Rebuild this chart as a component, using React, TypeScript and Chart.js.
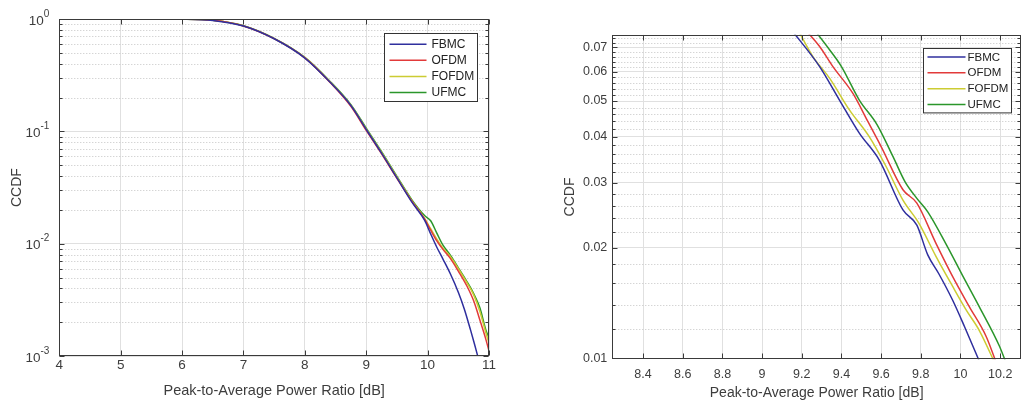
import React, { useEffect, useRef } from 'react';
import { Chart, registerables } from 'chart.js';

Chart.register(...registerables);

// ---------- shared ----------
const seriesNames = ['FBMC', 'OFDM', 'FOFDM', 'UFMC'];
const seriesColors = ['#2f2f9e', '#e23a3a', '#cccc33', '#2b962b'];
const xTitle = 'Peak-to-Average Power Ratio [dB]';
const yTitle = 'CCDF';

// ---------- left panel (full range) ----------
const leftXTicks = [4, 5, 6, 7, 8, 9, 10, 11];
const leftYTicks = [0.001, 0.01, 0.1, 1];
const leftYTickBase = ['10', '10', '10', '10'];
const leftYTickExp = ['-3', '-2', '-1', '0'];

const fbmcX = [5.67, 6.0, 6.5, 7.0, 7.5, 8.0, 8.4, 8.75, 9.0, 9.25, 9.5, 9.75, 9.95, 10.05, 10.15, 10.25, 10.37, 10.5, 10.6, 10.7, 10.76, 10.82];
const fbmcY = [0.999, 0.997, 0.974, 0.868, 0.668, 0.450, 0.278, 0.170, 0.104, 0.064, 0.0385, 0.0232, 0.0162, 0.0122, 0.0093, 0.0073, 0.0054, 0.0037, 0.0026, 0.0017, 0.0013, 0.00098];

const ofdmX = [5.67, 6.0, 6.5, 7.0, 7.5, 8.0, 8.4, 8.75, 9.0, 9.25, 9.5, 9.75, 9.95, 10.05, 10.15, 10.25, 10.37, 10.5, 10.64, 10.75, 10.85, 10.95, 11.0];
const ofdmY = [0.999, 0.997, 0.975, 0.869, 0.669, 0.451, 0.277, 0.167, 0.102, 0.063, 0.0382, 0.0235, 0.0166, 0.0132, 0.0106, 0.0089, 0.0074, 0.0057, 0.0042, 0.0031, 0.0021, 0.0014, 0.00111];

const fofdmX = [5.67, 6.0, 6.5, 7.0, 7.5, 8.0, 8.4, 8.75, 9.0, 9.25, 9.5, 9.75, 9.95, 10.05, 10.15, 10.25, 10.37, 10.5, 10.64, 10.75, 10.85, 10.95, 11.0];
const fofdmY = [0.999, 0.997, 0.975, 0.870, 0.671, 0.454, 0.280, 0.171, 0.105, 0.065, 0.0392, 0.0238, 0.0168, 0.0136, 0.0110, 0.0091, 0.0077, 0.0060, 0.0045, 0.0035, 0.0025, 0.0016, 0.00130];

const ufmcX = [5.67, 6.0, 6.5, 7.0, 7.5, 8.0, 8.4, 8.75, 9.0, 9.25, 9.5, 9.75, 9.95, 10.05, 10.15, 10.25, 10.37, 10.5, 10.64, 10.75, 10.85, 10.95, 11.0];
const ufmcY = [0.999, 0.998, 0.976, 0.872, 0.673, 0.456, 0.283, 0.173, 0.107, 0.066, 0.0398, 0.0243, 0.0178, 0.0160, 0.0124, 0.0097, 0.0079, 0.0061, 0.0046, 0.0036, 0.0027, 0.0017, 0.00145];

// ---------- right panel (zoom) ----------
const rightXTicks = [8.4, 8.6, 8.8, 9, 9.2, 9.4, 9.6, 9.8, 10, 10.2];
const rightXTickLabels = ['8.4', '8.6', '8.8', '9', '9.2', '9.4', '9.6', '9.8', '10', '10.2'];
const rightYTicks = [0.01, 0.02, 0.03, 0.04, 0.05, 0.06, 0.07];
const rightYTickLabels = ['0.01', '0.02', '0.03', '0.04', '0.05', '0.06', '0.07'];

const fbmcZoomX = [9.14, 9.29, 9.39, 9.49, 9.59, 9.71, 9.78, 9.835, 9.89, 9.96, 10.02, 10.11];
const fbmcZoomY = [0.0790, 0.0620, 0.0503, 0.0409, 0.0346, 0.0253, 0.0230, 0.0191, 0.0170, 0.0144, 0.0122, 0.0094];

const ofdmZoomX = [9.20, 9.29, 9.357, 9.457, 9.533, 9.60, 9.71, 9.78, 9.877, 9.96, 10.045, 10.13, 10.19];
const ofdmZoomY = [0.0800, 0.0703, 0.0620, 0.0525, 0.0440, 0.0376, 0.0287, 0.0264, 0.0205, 0.0167, 0.0138, 0.01145, 0.0094];

const fofdmZoomX = [9.17, 9.256, 9.34, 9.44, 9.54, 9.625, 9.71, 9.79, 9.877, 9.96, 10.03, 10.095, 10.185];
const fofdmZoomY = [0.0800, 0.0660, 0.0577, 0.0473, 0.0400, 0.0332, 0.0269, 0.0233, 0.0189, 0.0157, 0.0135, 0.0119, 0.0094];

const ufmcZoomX = [9.24, 9.34, 9.40, 9.49, 9.58, 9.66, 9.72, 9.78, 9.835, 9.93, 10.01, 10.095, 10.196, 10.24];
const ufmcZoomY = [0.0810, 0.0689, 0.0620, 0.0503, 0.0431, 0.0353, 0.0302, 0.0272, 0.0250, 0.0203, 0.0168, 0.0138, 0.0108, 0.0094];

const FONT = '"Liberation Sans", Arial, Helvetica, sans-serif';
const TEXT = '#3d3d3d';
const AXIS = '#3a3a3a';
const MAJOR_GRID = '#e0e0e0';
const MINOR_GRID = '#c4c4c4';

// minor grid positions
const leftYMinor: number[] = [];
for (const d of [0.001, 0.01, 0.1]) for (let k = 2; k <= 9; k++) leftYMinor.push(k * d);
const rightYMinor: number[] = [];
for (let k = 12; k <= 76; k += 2) if (k % 10 !== 0) rightYMinor.push(k / 1000);

const matlabPlugin = {
  id: 'matlab',
  beforeDatasetsDraw(chart: any, _args: any, opts: any) {
    const { ctx, chartArea: a, scales } = chart;
    const y = scales.y;
    ctx.save();
    ctx.beginPath();
    ctx.rect(a.left, a.top, a.right - a.left, a.bottom - a.top);
    ctx.clip();
    ctx.strokeStyle = MINOR_GRID;
    ctx.lineWidth = 1;
    ctx.setLineDash([1, 2]);
    for (const v of opts.minorY) {
      if (v <= y.min || v >= y.max) continue;
      const py = Math.round(y.getPixelForValue(v)) + 0.5;
      ctx.beginPath();
      ctx.moveTo(a.left, py);
      ctx.lineTo(a.right, py);
      ctx.stroke();
    }
    ctx.restore();
  },
  afterDatasetsDraw(chart: any, _args: any, opts: any) {
    const { ctx, chartArea: a, scales } = chart;
    const L = Math.round(a.left) + 0.5;
    const R = Math.round(a.right) - 0.5;
    const T = Math.round(a.top) + 0.5;
    const B = Math.round(a.bottom) - 0.5;
    ctx.save();
    ctx.strokeStyle = AXIS;
    ctx.lineWidth = 1;
    ctx.setLineDash([]);
    ctx.strokeRect(L, T, R - L, B - T);
    ctx.beginPath();
    for (const v of opts.xTicks) {
      const px = Math.round(scales.x.getPixelForValue(v)) + 0.5;
      ctx.moveTo(px, B); ctx.lineTo(px, B - 5);
      ctx.moveTo(px, T); ctx.lineTo(px, T + 5);
    }
    for (const v of opts.yTicks) {
      const py = Math.round(scales.y.getPixelForValue(v)) + 0.5;
      ctx.moveTo(L, py); ctx.lineTo(L + 5, py);
      ctx.moveTo(R, py); ctx.lineTo(R - 5, py);
    }
    for (const v of opts.minorY) {
      if (v <= scales.y.min || v >= scales.y.max) continue;
      const py = Math.round(scales.y.getPixelForValue(v)) + 0.5;
      ctx.moveTo(L, py); ctx.lineTo(L + 3, py);
      ctx.moveTo(R, py); ctx.lineTo(R - 3, py);
    }
    ctx.stroke();

    // power-of-ten tick labels (base + raised exponent)
    if (opts.expLabels) {
      const e = opts.expLabels;
      ctx.fillStyle = TEXT;
      ctx.textBaseline = 'middle';
      opts.yTicks.forEach((v: number, i: number) => {
        const py = scales.y.getPixelForValue(v);
        ctx.font = `${e.expSize}px ${FONT}`;
        const ew = ctx.measureText(e.exp[i]).width;
        const xr = a.left - e.gap;
        ctx.textAlign = 'left';
        ctx.fillText(e.exp[i], xr - ew, py - e.raise);
        ctx.font = `${e.baseSize}px ${FONT}`;
        ctx.textAlign = 'right';
        ctx.fillText(e.base[i], xr - ew, py + e.drop);
      });
    }

    // legend box
    const lg = opts.legend;
    const bx = Math.round(a.right - lg.right - lg.width) + 0.5;
    const by = Math.round(a.top + lg.top) + 0.5;
    ctx.fillStyle = '#ffffff';
    ctx.fillRect(bx, by, lg.width, lg.height);
    ctx.strokeStyle = '#333333';
    ctx.lineWidth = 1;
    ctx.strokeRect(bx, by, lg.width, lg.height);
    ctx.font = `${lg.fontSize}px ${FONT}`;
    ctx.textBaseline = 'middle';
    ctx.textAlign = 'left';
    chart.data.datasets.forEach((ds: any, i: number) => {
      const ry = by + lg.rowStart + i * lg.rowStep;
      ctx.strokeStyle = ds.borderColor;
      ctx.lineWidth = 1.5;
      ctx.beginPath();
      ctx.moveTo(bx + lg.line0, ry);
      ctx.lineTo(bx + lg.line1, ry);
      ctx.stroke();
      ctx.fillStyle = '#222222';
      ctx.fillText(ds.label, bx + lg.text, ry + 0.5);
    });
    ctx.restore();
  },
};

function makeDatasets(xs: number[][], ys: number[][]) {
  return xs.map((xArr, i) => ({
    label: seriesNames[i],
    data: xArr.map((x, j) => ({ x, y: ys[i][j] })),
    borderColor: seriesColors[i],
    backgroundColor: seriesColors[i],
    borderWidth: 1.5,
    pointRadius: 0,
    fill: false,
    cubicInterpolationMode: 'monotone' as const,
  }));
}

export default function App() {
  const leftRef = useRef<HTMLCanvasElement>(null);
  const rightRef = useRef<HTMLCanvasElement>(null);

  useEffect(() => {
    const left = new Chart(leftRef.current as HTMLCanvasElement, {
      type: 'line',
      data: {
        datasets: makeDatasets([fbmcX, ofdmX, fofdmX, ufmcX], [fbmcY, ofdmY, fofdmY, ufmcY]) as any,
      },
      plugins: [matlabPlugin as any],
      options: {
        responsive: false,
        animation: false,
        layout: { padding: { left: 0, top: 16, right: 31, bottom: 0 } },
        plugins: {
          legend: { display: false },
          tooltip: { enabled: false },
          matlab: {
            minorY: leftYMinor,
            xTicks: leftXTicks,
            yTicks: leftYTicks,
            expLabels: { base: leftYTickBase, exp: leftYTickExp, baseSize: 13.5, expSize: 10, gap: 10, raise: 5, drop: 2 },
            legend: { right: 12.3, top: 14, width: 93, height: 68, rowStart: 10.7, rowStep: 16.1, line0: 5, line1: 42, text: 47, fontSize: 12 },
          },
        } as any,
        scales: {
          x: {
            type: 'linear',
            min: 4,
            max: 11,
            afterBuildTicks: (s: any) => { s.ticks = leftXTicks.map((v) => ({ value: v })); },
            afterFit: (s: any) => { s.height = 47; },
            grid: { color: MAJOR_GRID, drawTicks: false },
            border: { display: false },
            ticks: { padding: 1, color: TEXT, font: { family: FONT, size: 13.5 }, maxRotation: 0, callback: (v: any) => String(v) },
            title: { display: true, text: xTitle, color: TEXT, font: { family: FONT, size: 14.5 }, padding: { top: 0, bottom: 3.6 } },
          },
          y: {
            type: 'logarithmic',
            min: 0.001,
            max: 1,
            afterBuildTicks: (s: any) => { s.ticks = leftYTicks.map((v) => ({ value: v })); },
            afterFit: (s: any) => { s.width = 59.3; },
            grid: { color: MAJOR_GRID, drawTicks: false },
            border: { display: false },
            ticks: { padding: 11, color: TEXT, font: { family: FONT, size: 13.5 }, callback: () => '' },
            title: { display: true, text: yTitle, color: TEXT, font: { family: FONT, size: 14 }, padding: { top: 9, bottom: 0 } },
          },
        },
      },
    });

    const right = new Chart(rightRef.current as HTMLCanvasElement, {
      type: 'line',
      data: {
        datasets: makeDatasets([fbmcZoomX, ofdmZoomX, fofdmZoomX, ufmcZoomX], [fbmcZoomY, ofdmZoomY, fofdmZoomY, ufmcZoomY]) as any,
      },
      plugins: [matlabPlugin as any],
      options: {
        responsive: false,
        animation: false,
        layout: { padding: { left: 0, top: 34.7, right: 1, bottom: 0 } },
        plugins: {
          legend: { display: false },
          tooltip: { enabled: false },
          matlab: {
            minorY: rightYMinor,
            xTicks: rightXTicks,
            yTicks: rightYTicks,
            legend: { right: 10.3, top: 13.6, width: 88, height: 64.4, rowStart: 8.4, rowStep: 15.9, line0: 4, line1: 42, text: 44, fontSize: 11.5 },
          },
        } as any,
        scales: {
          x: {
            type: 'linear',
            min: 8.245,
            max: 10.305,
            afterBuildTicks: (s: any) => { s.ticks = rightXTicks.map((v) => ({ value: v })); },
            afterFit: (s: any) => { s.height = 43.7; },
            grid: { color: MAJOR_GRID, drawTicks: false },
            border: { display: false },
            ticks: { padding: 8, color: TEXT, font: { family: FONT, size: 12.5 }, maxRotation: 0, callback: (_v: any, i: number) => rightXTickLabels[i] },
            title: { display: true, text: xTitle, color: TEXT, font: { family: FONT, size: 14 }, padding: { top: 0, bottom: 1.6 } },
          },
          y: {
            type: 'logarithmic',
            min: 0.00994,
            max: 0.0757,
            afterBuildTicks: (s: any) => { s.ticks = rightYTicks.map((v) => ({ value: v })); },
            afterFit: (s: any) => { s.width = 92.3; },
            grid: { color: MAJOR_GRID, drawTicks: false },
            border: { display: false },
            ticks: { padding: 5, color: TEXT, font: { family: FONT, size: 12.5 }, callback: (_v: any, i: number) => rightYTickLabels[i] },
            title: { display: true, text: yTitle, color: TEXT, font: { family: FONT, size: 14 }, padding: { top: 41.6, bottom: 0 } },
          },
        },
      },
    });

    return () => {
      left.destroy();
      right.destroy();
    };
  }, []);

  return (
    <div style={{ position: 'fixed', left: 0, top: 0, width: 1022, height: 403, background: '#ffffff', overflow: 'hidden' }}>
      <canvas ref={leftRef} width={520} height={403} style={{ position: 'absolute', left: 0, top: 0, display: 'block' }} />
      <canvas ref={rightRef} width={502} height={403} style={{ position: 'absolute', left: 520, top: 0, display: 'block' }} />
    </div>
  );
}
